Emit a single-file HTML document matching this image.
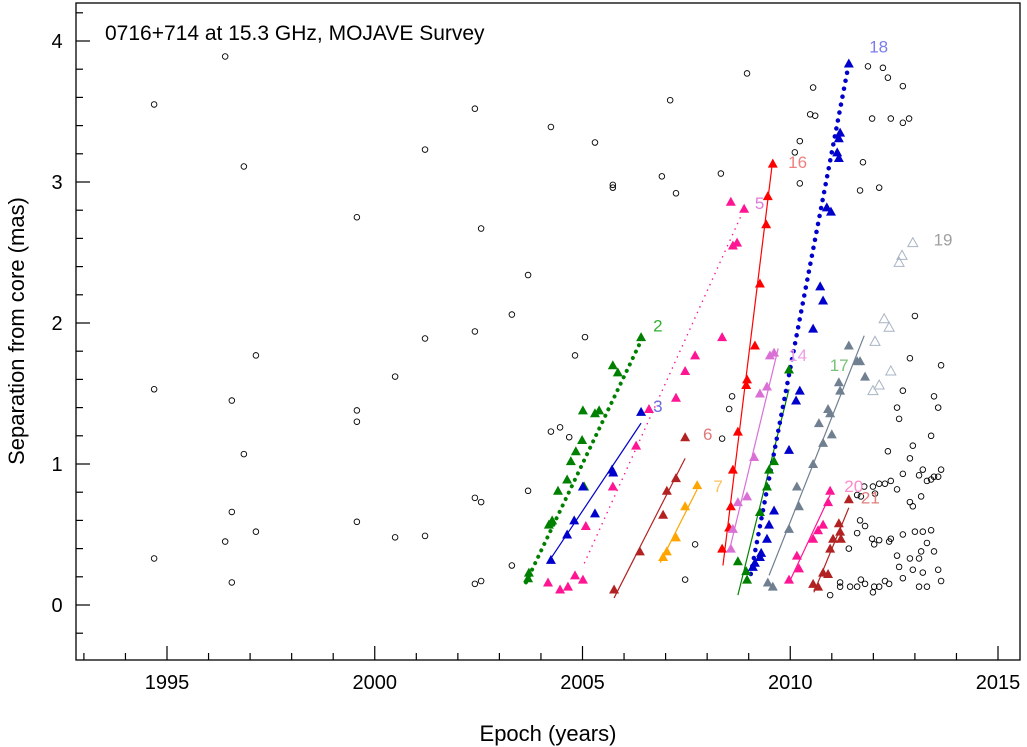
<!DOCTYPE html>
<html><head><meta charset="utf-8"><style>
body{margin:0;background:#fff}
svg{display:block;font-family:"Liberation Sans",sans-serif}
</style></head><body>
<svg id="chart" width="1027" height="747" viewBox="0 0 1027 747" xmlns="http://www.w3.org/2000/svg">
<rect x="0" y="0" width="1027" height="747" fill="#fff"/>
<g id="marks"></g>
<rect x="76" y="3" width="944" height="657" fill="none" stroke="#000" stroke-width="1.3"/>
<g id="axes"></g>
<text x="105" y="40" font-size="21">0716+714 at 15.3 GHz, MOJAVE Survey</text>
<text x="548" y="741" font-size="22" text-anchor="middle">Epoch (years)</text>
<text transform="translate(24,331) rotate(-90)" font-size="22" text-anchor="middle">Separation from core (mas)</text>
</svg>
<script>
const xTicks=[1995,2000,2005,2010,2015];
const yTicks=[0,1,2,3,4];
const unassignedYears=[1994.69,1994.69,1994.69,1996.40,1996.56,1996.56,1996.40,1996.56,1996.85,1996.85,1997.14,1997.14,1999.57,1999.57,1999.57,1999.57,2000.49,2000.49,2001.21,2001.21,2001.21,2002.41,2002.41,2002.41,2002.41,2002.56,2002.56,2002.56,2003.30,2003.30,2003.69,2003.69,2004.24,2004.24,2004.46,2004.68,2004.82,2005.06,2005.30,2005.73,2005.73,2006.91,2007.11,2007.25,2007.47,2007.71,2008.33,2008.36,2008.53,2008.60,2008.96,2010.11,2010.23,2010.55,2010.48,2010.23,2010.60,2011.87,2012.23,2012.35,2012.71,2011.97,2012.42,2012.71,2012.86,2011.75,2011.68,2012.14,2013.00,2012.88,2013.63,2012.71,2013.46,2012.57,2013.56,2012.62,2013.39,2012.95,2012.35,2012.88,2012.71,2013.10,2013.19,2013.29,2013.39,2013.46,2013.56,2013.63,2012.42,2012.28,2012.14,2011.99,2011.78,2012.57,2012.04,2011.61,2011.70,2013.15,2012.88,2012.95,2011.68,2011.80,2011.61,2011.97,2012.14,2012.02,2012.42,2012.38,2012.71,2013.00,2013.19,2013.39,2013.29,2013.15,2013.46,2011.41,2012.57,2012.88,2013.10,2012.62,2012.95,2013.19,2013.56,2013.63,2012.71,2011.70,2011.80,2012.28,2012.38,2011.20,2011.20,2011.44,2011.61,2012.02,2012.14,2011.99,2013.10,2013.29,2010.96];
const unassignedSeps=[3.55,1.53,0.33,3.89,1.45,0.66,0.45,0.16,3.11,1.07,1.77,0.52,2.75,1.38,1.30,0.59,0.48,1.62,3.23,1.89,0.49,3.52,1.94,0.76,0.15,0.73,2.67,0.17,2.06,0.28,2.34,0.81,3.39,1.23,1.26,1.19,1.77,1.90,3.28,2.96,2.98,3.04,3.58,2.92,0.18,0.43,3.06,1.18,1.39,1.48,3.77,3.21,2.99,3.67,3.48,3.29,3.47,3.82,3.81,3.74,3.68,3.45,3.45,3.42,3.45,3.14,2.94,2.96,2.05,1.75,1.70,1.52,1.48,1.40,1.40,1.32,1.20,1.13,1.09,1.04,0.93,0.92,0.96,0.88,0.89,0.91,0.91,0.96,0.88,0.86,0.86,0.84,0.84,0.82,0.79,0.78,0.77,0.77,0.73,0.70,0.60,0.56,0.51,0.47,0.46,0.43,0.47,0.45,0.50,0.52,0.52,0.53,0.44,0.38,0.38,0.40,0.35,0.33,0.33,0.27,0.25,0.23,0.25,0.17,0.19,0.18,0.15,0.17,0.15,0.16,0.13,0.13,0.13,0.13,0.13,0.09,0.13,0.13,0.07];
const c2Years=[2003.69,2003.71,2004.19,2004.27,2004.41,2004.63,2004.72,2004.84,2004.99,2005.01,2005.04,2005.30,2005.40,2005.73,2005.85,2006.41];
const c2Seps=[0.19,0.23,0.57,0.60,0.81,0.89,1.02,1.09,1.17,1.38,0.84,1.36,1.38,1.70,1.65,1.90];
const c3Years=[2004.24,2004.63,2004.80,2005.01,2005.30,2005.71,2005.74,2006.41];
const c3Seps=[0.32,0.50,0.60,0.84,0.65,0.96,0.94,1.37];
const c5Years=[2004.17,2004.46,2004.65,2004.82,2005.01,2005.08,2005.73,2006.29,2006.60,2007.25,2007.47,2007.71,2008.36,2008.57,2008.62,2008.72,2008.89];
const c5Seps=[0.16,0.11,0.13,0.21,0.18,0.56,0.84,1.13,1.39,1.47,1.66,1.77,1.90,2.86,2.55,2.57,2.81];
const c6Years=[2005.76,2006.38,2006.94,2007.03,2007.25,2007.47];
const c6Seps=[0.11,0.38,0.64,0.81,0.90,1.19];
const c7Years=[2006.94,2007.03,2007.25,2007.47,2007.76];
const c7Seps=[0.34,0.38,0.48,0.70,0.85];
const c16Years=[2008.36,2008.53,2008.57,2008.62,2008.74,2008.94,2008.96,2009.15,2009.27,2009.42,2009.46,2009.58];
const c16Seps=[0.40,0.55,0.70,0.96,1.23,1.56,1.60,1.84,2.28,2.70,2.90,3.13];
const c14Years=[2008.57,2008.62,2008.74,2008.96,2009.13,2009.27,2009.44,2009.51,2009.61];
const c14Seps=[0.40,0.54,0.73,0.77,1.05,1.50,1.55,1.77,1.79];
const c17Years=[2008.74,2008.94,2008.96,2009.27,2009.44,2009.49,2009.61,2009.97];
const c17Seps=[0.31,0.24,0.18,0.66,0.84,0.96,1.02,1.67];
const c18Years=[2009.10,2009.15,2009.27,2009.30,2009.44,2009.49,2009.61,2009.97,2010.14,2010.23,2010.55,2010.72,2010.79,2010.88,2010.98,2011.13,2011.17,2011.17,2011.20,2011.41];
const c18Seps=[0.27,0.30,0.34,0.37,0.47,0.57,0.67,1.10,1.45,1.52,1.96,2.26,2.16,2.82,2.79,3.21,3.17,3.31,3.35,3.84];
const cGrayYears=[2009.46,2009.58,2009.97,2010.16,2010.21,2010.55,2010.79,2011.00,2010.69,2010.91,2010.96,2011.20,2011.17,2011.61,2011.68,2011.80,2011.41];
const cGraySeps=[0.16,0.13,0.54,0.84,0.70,1.00,1.15,1.21,1.29,1.39,1.36,1.52,1.58,1.73,1.73,1.62,1.84];
const c19Years=[2012.26,2012.38,2012.04,2012.42,2012.14,2011.99,2012.62,2012.69,2012.95];
const c19Seps=[2.03,1.97,1.87,1.66,1.56,1.52,2.43,2.48,2.57];
const c20Years=[2009.97,2010.21,2010.16,2010.55,2010.67,2010.79,2010.91,2010.96];
const c20Seps=[0.18,0.26,0.35,0.47,0.53,0.57,0.73,0.81];
const c21Years=[2010.55,2010.67,2010.79,2010.91,2010.96,2011.03,2011.17,2011.20,2011.22,2011.41];
const c21Seps=[0.15,0.13,0.23,0.22,0.40,0.47,0.58,0.52,0.47,0.75];
const fitYears={c2:[2003.64,2006.50],c3:[2004.17,2006.41],c5:[2005.05,2008.80],c6:[2005.76,2007.47],c7:[2006.87,2007.76],c16:[2008.38,2009.58],c14:[2008.53,2009.71],c17:[2008.74,2009.97],c18:[2009.05,2011.41],cGray:[2009.49,2011.78],c20:[2009.99,2010.96],c21:[2010.57,2011.41]};
const fitSeps={c2:[0.16,1.93],c3:[0.30,1.29],c5:[0.30,2.75],c6:[0.05,1.04],c7:[0.30,0.82],c16:[0.28,3.16],c14:[0.38,1.82],c17:[0.07,1.53],c18:[0.22,3.84],cGray:[0.21,1.91],c20:[0.17,0.78],c21:[0.09,0.69]};

const NS='http://www.w3.org/2000/svg';
const X=yr=>167+(yr-1995)*41.55;
const Y=m=>605-m*141;
const marks=document.getElementById('marks');
const axes=document.getElementById('axes');
function mk(tag,parent){const e=document.createElementNS(NS,tag);parent.appendChild(e);return e;}

// axes ticks
for(let yr=1993;yr<=2015;yr++){
  const major=yr%5===0;
  const t=mk('line',axes);
  
  
  t.setAttribute('x1',X(yr));t.setAttribute('x2',X(yr));
  t.setAttribute('y1',660);t.setAttribute('y2',major?646:653);
  t.setAttribute('stroke','#000');t.setAttribute('stroke-width','1.2');
}
xTicks.forEach(v=>{
  const t=mk('text',axes);
  
  
  t.setAttribute('x',X(v));t.setAttribute('y',689);t.setAttribute('font-size','20');t.setAttribute('text-anchor','middle');
  t.textContent=v;
});
for(let k=-2;k<=42;k+=2){
  const m=k/10;const major=k%10===0;
  if(Y(m)<3||Y(m)>660)continue;
  const t=mk('line',axes);
  
  
  t.setAttribute('x1',76);t.setAttribute('x2',major?90:83);
  t.setAttribute('y1',Y(m));t.setAttribute('y2',Y(m));
  t.setAttribute('stroke','#000');t.setAttribute('stroke-width','1.2');
}
yTicks.forEach(v=>{
  const t=mk('text',axes);
  
  
  t.setAttribute('x',57);t.setAttribute('y',Y(v)+7);t.setAttribute('font-size','20');t.setAttribute('text-anchor','middle');
  t.textContent=v;
});

function fit(key,color,width,dash){
  const l=mk('line',marks);
  
  
  l.setAttribute('x1',X(fitYears[key][0]));l.setAttribute('y1',Y(fitSeps[key][0]));
  l.setAttribute('x2',X(fitYears[key][1]));l.setAttribute('y2',Y(fitSeps[key][1]));
  l.setAttribute('stroke',color);l.setAttribute('stroke-width',width);
  if(dash){l.setAttribute('stroke-dasharray',dash);l.setAttribute('stroke-linecap','round');}
}
function tris(years,seps,color,name,hollow){
  years.forEach((yr,i)=>{
    const x=X(yr),y=Y(seps[i]);
    const p=mk('polygon',marks);
    
    
    p.setAttribute('points',`${x-5},${y+4} ${x+5},${y+4} ${x},${y-5}`);
    if(hollow){p.setAttribute('fill','none');p.setAttribute('stroke',color);p.setAttribute('stroke-width','1');}
    else p.setAttribute('fill',color);
  });
}
function label(txt,yr,m,color){
  const t=mk('text',marks);
  
  
  t.setAttribute('x',X(yr));t.setAttribute('y',Y(m));t.setAttribute('font-size','17');t.setAttribute('fill',color);
  t.textContent=txt;
}
unassignedYears.forEach((yr,i)=>{
  const c=mk('circle',marks);
  
  
  c.setAttribute('cx',X(yr));c.setAttribute('cy',Y(unassignedSeps[i]));c.setAttribute('r','2.8');
  c.setAttribute('fill','none');c.setAttribute('stroke','#000');c.setAttribute('stroke-width','0.9');
});
fit('c2','#008000',4,'0.1 7');
fit('c3','#0000cc',1.2);
fit('c5','#ff1493',1.5,'0.1 6');
fit('c6','#b22222',1.2);
fit('c7','#ffa500',1.2);
fit('c16','#ff0000',1.2);
fit('c14','#da70d6',1.2);
fit('c17','#008000',1.2);
fit('c18','#0000cc',4.5,'0.1 8');
fit('cGray','#708090',1.2);
fit('c20','#ff1493',1.2);
fit('c21','#b22222',1.2);
tris(c2Years,c2Seps,'#008000','component-2');
tris(c3Years,c3Seps,'#0000cc','component-3');
tris(c5Years,c5Seps,'#ff1493','component-5');
tris(c6Years,c6Seps,'#b22222','component-6');
tris(c7Years,c7Seps,'#ffa500','component-7');
tris(c16Years,c16Seps,'#ff0000','component-16');
tris(c14Years,c14Seps,'#da70d6','component-14');
tris(c17Years,c17Seps,'#008000','component-17');
tris(c18Years,c18Seps,'#0000cc','component-18');
tris(cGrayYears,cGraySeps,'#708090','component-gray');
tris(c19Years,c19Seps,'#a9b4c4','component-19',true);
tris(c20Years,c20Seps,'#ff1493','component-20');
tris(c21Years,c21Seps,'#b22222','component-21');
label('2',2006.7,1.94,'#33b033');
label('3',2006.7,1.37,'#6b6bde');
label('5',2009.15,2.81,'#e07ad8');
label('6',2007.9,1.17,'#e07a7a');
label('7',2008.15,0.8,'#ffbf60');
label('16',2009.95,3.1,'#f08080');
label('14',2009.95,1.73,'#ee9ee8');
label('17',2010.95,1.66,'#77c277');
label('18',2011.9,3.92,'#7b7bee');
label('19',2013.45,2.55,'#a0a0a0');
label('20',2011.3,0.8,'#ff8ac8');
label('21',2011.7,0.72,'#e08080');
</script>
</body></html>
